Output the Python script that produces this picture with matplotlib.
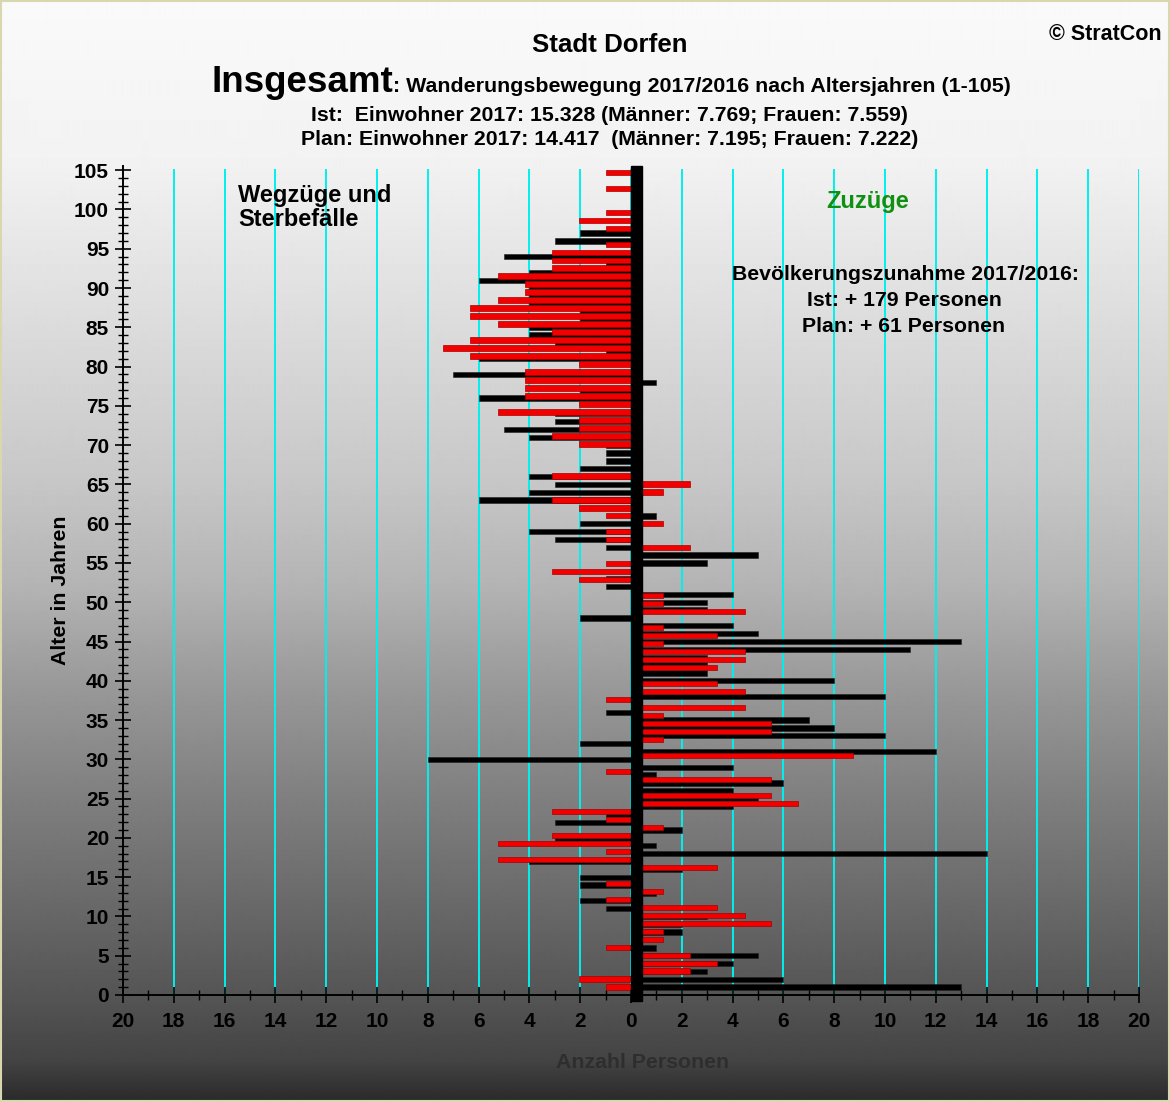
import numpy as np
import matplotlib
matplotlib.use("Agg")
import matplotlib.pyplot as plt

# ---------------- data ----------------
ages = list(range(1, 106))

# Ist (black) : net migration per age 2017/2016
ist = [13, 6, 3, 4, 5, 1, 0, 2, 2, 3,
       -1, -2, 1, -2, -2, 2, -4, 14, 1, -3,
       2, -3, -1, 4, 5, 4, 6, 1, 4, -8,
       12, -2, 10, 8, 7, -1, 0, 10, 0, 8,
       3, 3, 3, 11, 13, 5, 4, -2, 3, 3,
       4, -1, -1, 0, 3, 5, -1, -3, -4, -2,
       1, 0, -6, -4, -3, -4, -2, -1, -1, -1,
       -4, -5, -3, -3, 0, -6, -2, 1, -7, 0,
       -6, -1, -3, -4, -4, -2, -2, -4, -4, -4,
       -6, -4, -1, -5, 0, -3, -2, 0, 0, 0,
       0, 0, 0, 0, 0]

# Plan (red)
plan = [-1.0, -2.03, 2.32, 3.37, 2.32, -1.0, 1.26, 1.26, 5.53, 4.47,
        3.37, -1.0, 1.26, -1.0, 0, 3.37, -5.24, -1.0, -5.24, -3.1,
        1.26, -1.0, -3.1, 6.58, 5.53, 0, 5.53, -1.0, 0, 8.73,
        0, 1.26, 5.53, 5.53, 1.26, 4.47, -1.0, 4.47, 3.37, 0,
        3.37, 4.47, 4.47, 1.26, 3.37, 1.26, 0, 4.47, 1.26, 1.26,
        0, -2.03, -3.1, -1.0, 0, 2.32, -1.0, -1.0, 1.26, -1.0,
        -2.03, -3.1, 1.26, 2.32, -3.1, 0, 0, 0, -2.03, -3.1,
        -2.03, -2.03, -5.24, -2.03, -4.18, -4.18, -4.18, -4.18, -2.03, -6.33,
        -7.4, -6.33, -3.1, -5.24, -6.33, -6.33, -5.24, -4.18, -4.18, -5.24,
        -3.1, -3.1, -3.1, -1.0, 0, -1.0, -2.03, -1.0, 0, 0,
        -1.0, 0, -1.0, 0, 0]

x_ticks = list(range(-20, 21, 2))
x_tick_labels = [str(abs(v)) for v in x_ticks]
y_ticks = list(range(0, 106, 5))

# ---------------- figure ----------------
W, H = 1170, 1102
fig = plt.figure(figsize=(W / 100, H / 100), dpi=100)
FONT = ['Liberation Sans', 'DejaVu Sans']
plt.rcParams['font.family'] = FONT
plt.rcParams['font.weight'] = 'bold'

# background gradient
bg = fig.add_axes([0, 0, 1, 1], zorder=-5)
stops_y = [0, 160, 475, 585, 690, 795, 900, 1000, 1060, 1102]
stops_v = [250, 242, 200, 180, 152, 128, 106, 84, 68, 42]
col = np.interp(np.arange(H), stops_y, stops_v) / 255.0
img = np.repeat(col[:, None], 4, axis=1)
bg.imshow(img, cmap='gray', vmin=0, vmax=1, aspect='auto', extent=[0, 1, 1, 0],
          interpolation='bilinear')
bg.set_xlim(0, 1); bg.set_ylim(1, 0)
bg.axis('off')

def px(x, y):
    return x / W, 1 - y / H

# main axes
x0, x1 = 123, 1139
ybot, ytop = 995, 165.5
YMAX = 105.6
ax = fig.add_axes([x0 / W, 1 - ybot / H, (x1 - x0) / W, (ybot - ytop) / H])
ax.set_facecolor('none')
ax.set_xlim(-20, 20)
ax.set_ylim(0, YMAX)

# cyan grid
grid_x = [v for v in x_ticks if v != -20]
ax.vlines(grid_x, 0, 105.1, colors='#00f0f0', lw=1.4, zorder=1)

# Ist bars
ax.barh(ages, ist, height=0.68, color='black', edgecolor='#202020', lw=0.4, zorder=3)

# Plan bars on a slightly stretched secondary category axis
STRETCH = 1.017
axp = ax.twinx()
axp.set_ylim(1 + (0 - 1) / STRETCH, 1 + (YMAX - 1) / STRETCH)
axp.barh(ages, plan, height=0.67, color='#f20000', edgecolor='#a80000', lw=0.5, zorder=4)
axp.set_yticks([])
for s in axp.spines.values():
    s.set_visible(False)

# thick zero line
axp.axvspan(0, 0.42, ymin=-0.007, ymax=1.0, color='black', zorder=10, clip_on=False)

# axes styling
for s in ['top', 'right']:
    ax.spines[s].set_visible(False)
for s in ['left', 'bottom']:
    ax.spines[s].set_color('black')
    ax.spines[s].set_linewidth(1.4)
ax.set_xticks(x_ticks)
ax.set_xticklabels(x_tick_labels)
ax.set_xticks(range(-20, 21, 1), minor=True)
ax.set_yticks(y_ticks)
ax.set_yticks(range(0, 106, 1), minor=True)
ax.tick_params(axis='both', which='major', direction='inout', length=12, width=1.2,
               labelsize=15, colors='black')
ax.tick_params(axis='both', which='minor', direction='inout', length=7, width=1.0,
               colors='black')
ax.tick_params(axis='x', which='major', pad=6)
ax.tick_params(axis='y', which='major', pad=4)
for lab in ax.get_xticklabels() + ax.get_yticklabels():
    lab.set_fontweight('bold')

# ---------------- texts ----------------
def t(x, y, s, **kw):
    kw.setdefault('fontweight', 'bold')
    kw.setdefault('color', 'black')
    fig.text(*px(x, y), s, **kw)

t(610, 52, 'Stadt Dorfen', fontsize=18.6, ha='center', va='baseline')
t(1105, 40, '© StratCon', fontsize=15.5, ha='center', va='baseline')
t(393, 92, 'Insgesamt', fontsize=26.5, ha='right', va='baseline')
t(393, 92, ': Wanderungsbewegung 2017/2016 nach Altersjahren (1-105)', fontsize=15.4,
  ha='left', va='baseline')
t(609, 121, 'Ist:  Einwohner 2017: 15.328 (Männer: 7.769; Frauen: 7.559)', fontsize=15.3,
  ha='center', va='baseline')
t(610, 145, 'Plan: Einwohner 2017: 14.417  (Männer: 7.195; Frauen: 7.222)', fontsize=15.3,
  ha='center', va='baseline')
t(238, 202, 'Wegzüge und', fontsize=17, ha='left', va='baseline')
t(238, 226, 'Sterbefälle', fontsize=17, ha='left', va='baseline')
t(868, 208, 'Zuzüge', fontsize=17, ha='center', va='baseline', color='#109010')
t(905, 280, 'Bevölkerungszunahme 2017/2016:', fontsize=15.3, ha='center', va='baseline')
t(904, 306, 'Ist: + 179 Personen', fontsize=15.3, ha='center', va='baseline')
t(904, 332, 'Plan: + 61 Personen', fontsize=15.3, ha='center', va='baseline')
t(60, 590, 'Alter in Jahren', fontsize=15.3, ha='center', va='center', rotation=90)
t(643, 1062, 'Anzahl Personen', fontsize=15.3, ha='center', va='center', color='#2e2e2e')

# thin frame around the picture
fig.patches.append(plt.Rectangle((0.0005, 0.0005), 0.999, 0.999, transform=fig.transFigure,
                                 fill=False, edgecolor='#d8d8b0', lw=1.5, zorder=20))

fig.savefig('out.png', dpi=100)
